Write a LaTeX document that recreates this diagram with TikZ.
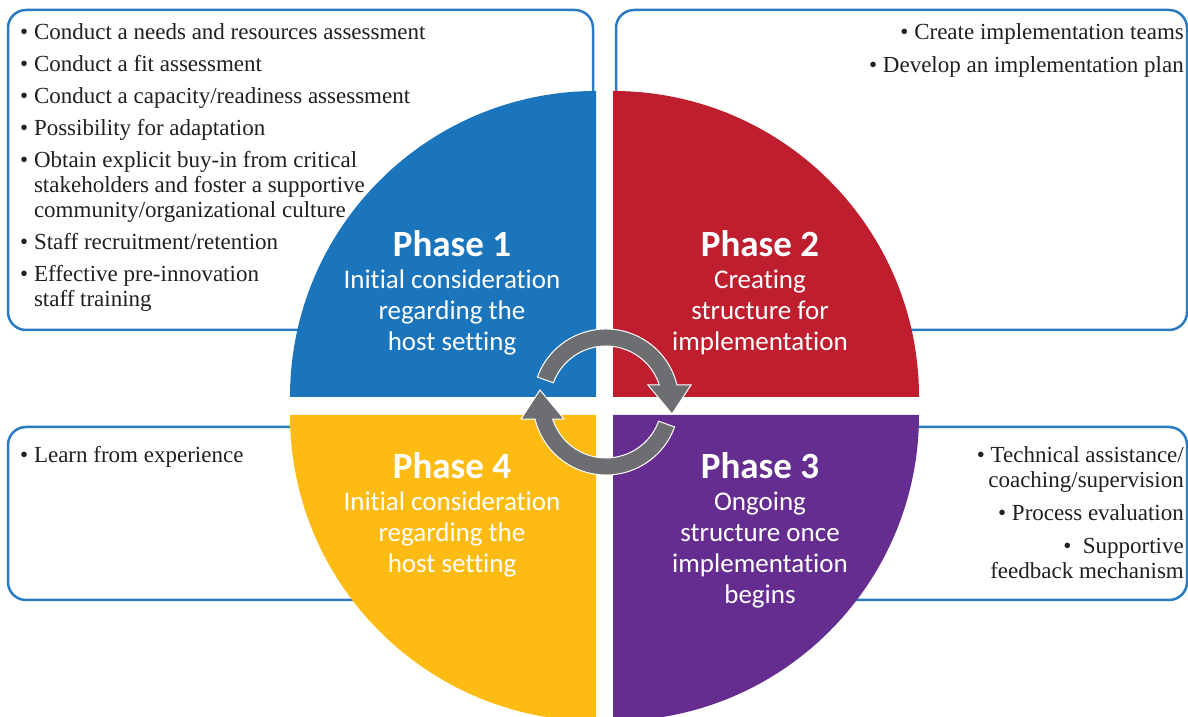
\documentclass[tikz,border=0pt]{standalone}
\usepackage{fontspec}
\setmainfont{Liberation Serif}
\newfontfamily\phasefont[Ligatures=NoCommon]{Carlito}
\usetikzlibrary{positioning}

\definecolor{phaseblue}{HTML}{1B75BC}
\definecolor{phasered}{HTML}{BE1E2D}
\definecolor{phaseyellow}{HTML}{FDBB13}
\definecolor{phasepurple}{HTML}{662D91}
\definecolor{boxline}{HTML}{2B7BC3}
\definecolor{arrowgray}{HTML}{6D6E71}
\definecolor{listink}{HTML}{231F20}

\tikzset{
  listbox/.style={draw=boxline, line width=2.5pt, rounded corners=18pt},
  listtext/.style={inner sep=0pt, text=listink, font=\fontsize{23}{25}\selectfont},
  phasetitle/.style={inner sep=0pt, text=white, font=\phasefont\bfseries\fontsize{37}{40}\selectfont},
  phasedesc/.style={inner sep=0pt, text=white, align=center, font=\phasefont\fontsize{27}{31}\selectfont},
  cyclearrow/.style={fill=arrowgray, draw=white, line width=1pt},
}

\begin{document}
\begin{tikzpicture}[x=1pt,y=1pt]
  \useasboundingbox (0,0) rectangle (1188,717);
  \clip (0,0) rectangle (1188,717);
  \fill[white] (0,0) rectangle (1188,717);

  % boxes behind the wheel
  \draw[listbox] (8,387) rectangle (593,707);
  \draw[listbox] (616,387) rectangle (1187,707);
  \draw[listbox] (8,117) rectangle (590,290);
  \draw[listbox] (620,117) rectangle (1187,290);

  % the four quarters
  \fill[phaseblue] (596,320) -- ++(-306,0) arc[start angle=180, end angle=90, radius=306] -- cycle;
  \fill[phasered] (613,320) -- ++(0,306) arc[start angle=90, end angle=0, radius=306] -- cycle;
  \fill[phaseyellow] (596,302) -- ++(-306,0) arc[start angle=180, end angle=270, radius=306] -- cycle;
  \fill[phasepurple] (613,302) -- ++(306,0) arc[start angle=0, end angle=-90, radius=306] -- cycle;

  % cycle arrows
  \begin{scope}[shift={(606,315)}]
    \filldraw[cyclearrow] (160:73) arc[start angle=160, end angle=13.5, radius=73]
      -- (85,17) -- (66,-12) -- (42,17) -- (17.7:56)
      arc[start angle=17.7, end angle=160, radius=56] -- cycle;
    \filldraw[cyclearrow, rotate=180] (160:73) arc[start angle=160, end angle=13.5, radius=73]
      -- (85,17) -- (66,-12) -- (42,17) -- (17.7:56)
      arc[start angle=17.7, end angle=160, radius=56] -- cycle;
  \end{scope}

  % phase labels
  \node[phasetitle, anchor=base] (p1) at (452,460) {Phase 1};
  \node[phasedesc, anchor=north] (d1) at (452,447) {Initial consideration\\regarding the\\host setting};
  \node[phasetitle, anchor=base] (p2) at (760,460) {Phase 2};
  \node[phasedesc, anchor=north] (d2) at (760,447) {Creating\\structure for\\implementation};
  \node[phasetitle, anchor=base] (p4) at (452,238) {Phase 4};
  \node[phasedesc, anchor=north] (d4) at (452,225) {Initial consideration\\regarding the\\host setting};
  \node[phasetitle, anchor=base] (p3) at (760,238) {Phase 3};
  \node[phasedesc, anchor=north] (d3) at (760,225) {Ongoing\\structure once\\implementation\\begins};

  % box lists
  \node[listtext, align=left, anchor=north west] (l1) at (20,694) {%
    \textbullet\ Conduct a needs and resources assessment\\[7pt]
    \textbullet\ Conduct a fit assessment\\[7pt]
    \textbullet\ Conduct a capacity/readiness assessment\\[7pt]
    \textbullet\ Possibility for adaptation\\[7pt]
    \textbullet\ Obtain explicit buy-in from critical\\
    \phantom{\textbullet\ }stakeholders and foster a supportive\\
    \phantom{\textbullet\ }community/organizational culture\\[7pt]
    \textbullet\ Staff recruitment/retention\\[7pt]
    \textbullet\ Effective pre-innovation\\
    \phantom{\textbullet\ }staff training};
  \node[listtext, align=right, anchor=north east] (l2) at (1184,694) {%
    \textbullet\ Create implementation teams\\[8pt]
    \textbullet\ Develop an implementation plan};
  \node[listtext, align=left, anchor=north west] (l4) at (20,271) {%
    \textbullet\ Learn from experience};
  \node[listtext, align=right, anchor=north east] (l3) at (1184,271) {%
    \textbullet\ Technical assistance/\\
    coaching/supervision\\[8pt]
    \textbullet\ Process evaluation\\[8pt]
    \textbullet\ \ Supportive\\
    feedback mechanism};
\end{tikzpicture}
\end{document}
